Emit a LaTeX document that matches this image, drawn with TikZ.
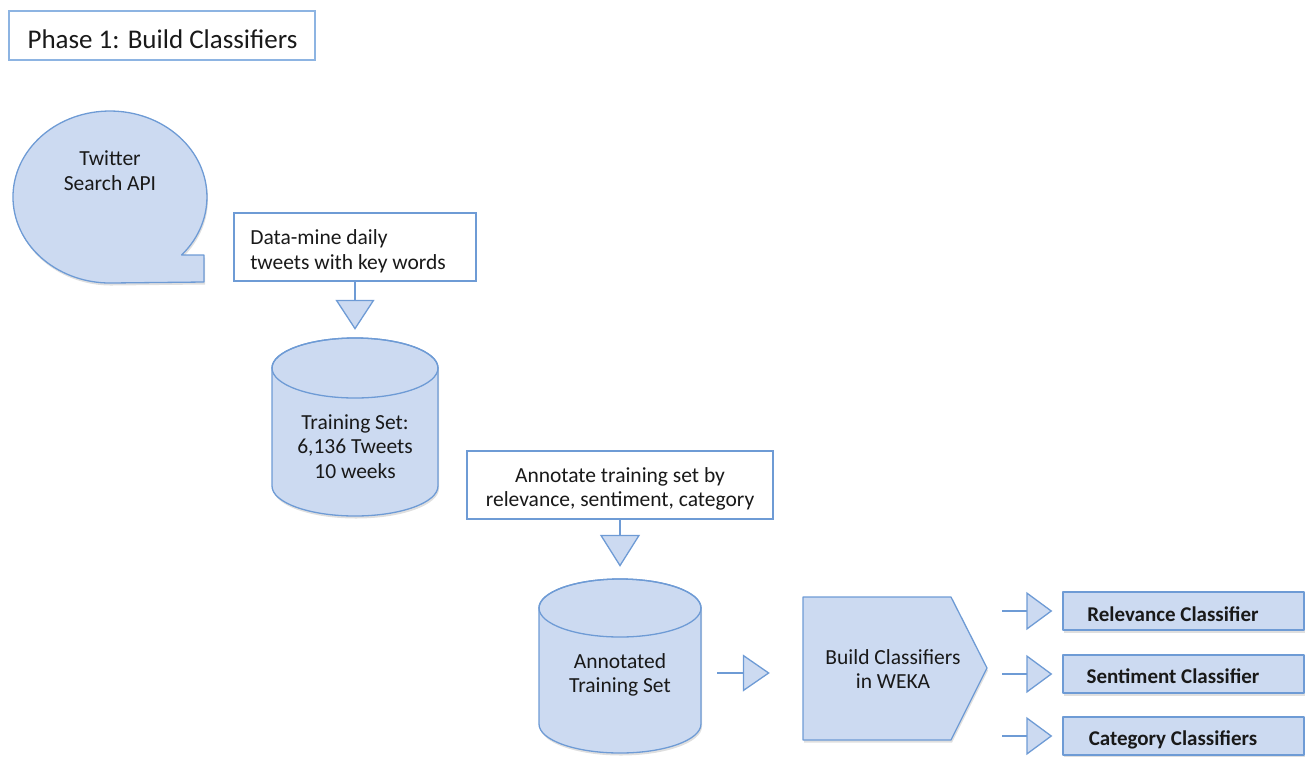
\documentclass[tikz,border=0pt]{standalone}
\usepackage{fontspec}
\setmainfont{Carlito}
\usetikzlibrary{arrows.meta,shadows}
\definecolor{cfill}{RGB}{204,218,241}
\definecolor{cline}{RGB}{110,155,213}
\definecolor{tline}{RGB}{141,180,226}
\definecolor{ctext}{RGB}{25,25,25}
\begin{document}
\begin{tikzpicture}[x=1pt,y=1pt,
  bluefill/.style={fill=cfill, draw=cline, line width=1.3pt, line join=round,
    drop shadow={shadow xshift=1pt,shadow yshift=-2.5pt,opacity=0.25}},
  txt/.style={font=\fontsize{21.5}{24.5}\selectfont, text=ctext, align=center, inner sep=0pt},
  btxt/.style={font=\fontsize{21}{24}\selectfont\bfseries, text=ctext, inner sep=0pt, anchor=base},
  wbox/.style={draw=cline, fill=white, line width=1.3pt, inner sep=0pt},
  hollow/.style={draw=none, inner sep=0pt},
  arr/.style n args={2}{draw=cline, line width=1.3pt,
    -{Triangle[width=#1pt,length=#2pt,fill=cfill]}},
  cbox/.style={bluefill, inner sep=0pt, minimum width=241pt, minimum height=38pt}
]
\useasboundingbox (0,0) rectangle (1306,-756);

% title
\node[draw=tline, line width=1.3pt, minimum width=306pt, minimum height=49pt, inner sep=0pt] (title) at (162,-35.5) {};
\node[font=\fontsize{27}{30}\selectfont, text=ctext, inner sep=0pt, anchor=base] (titletxt) at (162.5,-48) {Phase 1: Build Classifiers};

% speech bubble
\path[bluefill] (181.6,-255) arc[start angle=-42.4, end angle=270, x radius=97, y radius=86]
  -- (204,-282) -- (204,-255) -- cycle;
\node[txt] (twitter) at (110,-170.5) {Twitter\\Search API};

% data-mine box
\node[wbox, minimum width=242pt, minimum height=68pt] (mine) at (355,-247) {};
\node[txt, align=left] (minetxt) at (348,-251.5) {Data-mine daily\\tweets with key words};

% cylinder 1
\path[bluefill] (272,-368) -- (272,-486) arc[start angle=180,end angle=360,x radius=83,y radius=30]
  -- (438,-368) arc[start angle=0,end angle=180,x radius=83,y radius=30] -- cycle;
\draw[draw=cline, line width=1.3pt] (355,-368) ellipse[x radius=83, y radius=30];
\node[hollow, minimum width=166pt, minimum height=178pt] (cyl1) at (355,-427) {};
\node[txt] (cyl1txt) at (355,-446.5) {Training Set:\\6,136 Tweets\\10 weeks};

\draw[arr={39}{30}, shorten >=8pt] (mine.south) -- (cyl1.north);

% annotate box
\node[wbox, minimum width=306pt, minimum height=68pt] (ann) at (620,-485) {};
\node[txt] (anntxt) at (620,-489) {Annotate training set by\\relevance, sentiment, category};

% cylinder 2
\path[bluefill] (539,-608) -- (539,-724) arc[start angle=180,end angle=360,x radius=81,y radius=29]
  -- (701,-608) arc[start angle=0,end angle=180,x radius=81,y radius=29] -- cycle;
\draw[draw=cline, line width=1.3pt] (620,-608) ellipse[x radius=81, y radius=29];
\node[hollow, minimum width=162pt, minimum height=174pt] (cyl2) at (620,-666) {};
\node[txt] (cyl2txt) at (620,-675) {Annotated\\Training Set};

\draw[arr={40}{32}, shorten >=12pt] (ann.south) -- (cyl2.north);

% build pentagon
\path[bluefill] (803,-597) -- (951,-597) -- (987,-668) -- (951,-740) -- (803,-740) -- cycle;
\node[hollow, minimum width=184pt, minimum height=143pt] (build) at (895,-668.5) {};
\node[txt] (buildtxt) at (893,-669) {Build Classifiers\\in WEKA};

\coordinate (mid) at (0,-673);
\draw[arr={37}{27}, shorten <=16pt, shorten >=33pt] (cyl2.east |- mid) -- (build.west |- mid);

% classifier boxes
\node[cbox] (rel) at (1183.5,-611) {};
\node[cbox] (sent) at (1183.5,-674) {};
\node[cbox] (cat) at (1183.5,-736) {};
\node[btxt] (reltxt) at (1173,-621) {Relevance Classifier};
\node[btxt] (senttxt) at (1173,-683.5) {Sentiment Classifier};
\node[btxt] (cattxt) at (1173,-745) {Category Classifiers};

\draw[arr={38}{26}, shorten <=15pt, shorten >=10pt] (build.east |- rel.west) -- (rel.west);
\draw[arr={38}{26}, shorten <=15pt, shorten >=10pt] (build.east |- sent.west) -- (sent.west);
\draw[arr={38}{26}, shorten <=15pt, shorten >=10pt] (build.east |- cat.west) -- (cat.west);
\end{tikzpicture}
\end{document}
